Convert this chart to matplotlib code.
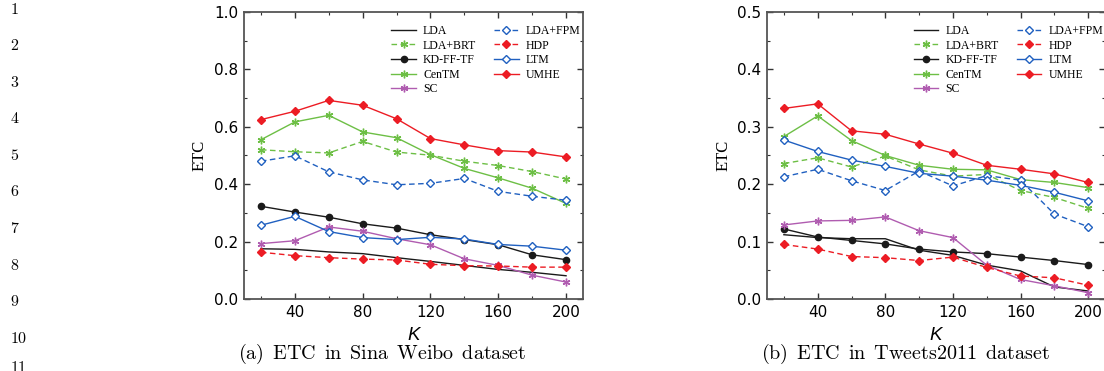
import numpy as np
import matplotlib
matplotlib.use("Agg")
import matplotlib.pyplot as plt
from matplotlib.ticker import MultipleLocator


# number of topics K
k_values = [20, 40, 60, 80, 100, 120, 140, 160, 180, 200]

method_names = ["LDA", "LDA+BRT", "KD-FF-TF", "CenTM", "SC",
                "LDA+FPM", "HDP", "LTM", "UMHE"]

# (a) Sina Weibo
weibo_lda = [0.175, 0.173, 0.164, 0.158, 0.144, 0.131, 0.117, 0.103, 0.093, 0.081]
weibo_lda_brt = [0.520, 0.513, 0.509, 0.549, 0.512, 0.501, 0.480, 0.465, 0.444, 0.418]
weibo_kd = [0.323, 0.303, 0.285, 0.262, 0.247, 0.224, 0.207, 0.189, 0.154, 0.137]
weibo_centm = [0.555, 0.617, 0.640, 0.582, 0.562, 0.503, 0.455, 0.422, 0.386, 0.333]
weibo_sc = [0.193, 0.203, 0.251, 0.236, 0.210, 0.189, 0.140, 0.117, 0.083, 0.059]
weibo_lda_fpm = [0.480, 0.499, 0.443, 0.415, 0.398, 0.403, 0.420, 0.375, 0.358, 0.344]
weibo_hdp = [0.163, 0.151, 0.144, 0.139, 0.136, 0.121, 0.116, 0.115, 0.111, 0.111]
weibo_ltm = [0.257, 0.288, 0.235, 0.214, 0.207, 0.215, 0.209, 0.190, 0.184, 0.170]
weibo_umhe = [0.625, 0.654, 0.692, 0.675, 0.628, 0.559, 0.537, 0.517, 0.512, 0.495]

# (b) Tweets2011
tweets_lda = [0.112, 0.107, 0.105, 0.105, 0.085, 0.076, 0.059, 0.049, 0.021, 0.014]
tweets_lda_brt = [0.236, 0.246, 0.230, 0.249, 0.225, 0.214, 0.217, 0.189, 0.177, 0.158]
tweets_kd = [0.122, 0.108, 0.102, 0.096, 0.087, 0.082, 0.079, 0.073, 0.067, 0.060]
tweets_centm = [0.283, 0.319, 0.276, 0.250, 0.233, 0.226, 0.225, 0.208, 0.203, 0.194]
tweets_sc = [0.129, 0.136, 0.137, 0.143, 0.119, 0.107, 0.059, 0.034, 0.023, 0.011]
tweets_lda_fpm = [0.213, 0.226, 0.206, 0.189, 0.223, 0.197, 0.215, 0.207, 0.148, 0.126]
tweets_hdp = [0.095, 0.087, 0.074, 0.072, 0.067, 0.073, 0.055, 0.040, 0.037, 0.024]
tweets_ltm = [0.277, 0.257, 0.242, 0.231, 0.219, 0.214, 0.207, 0.198, 0.186, 0.171]
tweets_umhe = [0.332, 0.340, 0.293, 0.287, 0.270, 0.254, 0.233, 0.226, 0.218, 0.203]

captions = ["(a) ETC in Sina Weibo dataset", "(b) ETC in Tweets2011 dataset"]
y_limits = [1.0, 0.5]
line_numbers = ["1", "2", "3", "4", "5", "6", "7", "8", "9", "10", "11"]

RED = "#ec1c24"
GREEN = "#6dbf45"
BLUE = "#2060c0"
PURPLE = "#b05cb0"
BLACK = "#1a1a1a"

# colour, linestyle, marker, filled
STYLES = [
    (BLACK, "-", None, True),
    (GREEN, "--", (6, 2, 0), True),
    (BLACK, "-", "o", True),
    (GREEN, "-", (6, 2, 0), True),
    (PURPLE, "-", (6, 2, 0), True),
    (BLUE, "--", "D", False),
    (RED, "--", "D", True),
    (BLUE, "-", "D", False),
    (RED, "-", "D", True),
]


def to_cm(s):
    return r"$\mathrm{" + s.replace(" ", r"\ \,") + "}$"


def draw_panel(ax, series, ymax, caption):
    for name, ys, (col, ls, mk, filled) in zip(method_names, series, STYLES):
        size = 4.5 if mk == "o" else 4
        if mk == (6, 2, 0):
            size = 5.5
        ax.plot(k_values, ys, color=col, linestyle=ls, linewidth=1.0,
                marker=mk, markersize=size, markeredgewidth=1.0,
                markerfacecolor=col if filled else "white",
                markeredgecolor=col, label=name, dashes=(4, 2.5) if ls == "--" else (None, None))
    ax.set_xlim(10, 210)
    ax.set_ylim(0, ymax)
    ax.xaxis.set_major_locator(MultipleLocator(40))
    ax.xaxis.set_minor_locator(MultipleLocator(20))
    ax.yaxis.set_major_locator(MultipleLocator(ymax / 5))
    ax.yaxis.set_minor_locator(MultipleLocator(ymax / 10))
    ax.set_yticklabels([f"{v:.1f}" for v in ax.get_yticks()])
    ax.tick_params(which="both", direction="in", top=True, right=True,
                   labelsize=11, colors="#333333", labelcolor="black")
    ax.tick_params(which="major", length=4, width=1.0, pad=4)
    ax.tick_params(which="minor", length=2.5, width=0.8)
    for sp in ax.spines.values():
        sp.set_color("#555555")
        sp.set_linewidth(1.3)
    ax.text(-0.13, 0.5, "ETC", rotation=90, transform=ax.transAxes,
            ha="center", va="center", family="Liberation Serif", fontsize=12)
    ax.text(0.5, -0.128, "K", style="italic", transform=ax.transAxes,
            ha="center", va="center", family="Liberation Sans", fontsize=13.5)
    ax.text(-0.017, -0.192, to_cm(caption), transform=ax.transAxes,
            ha="left", va="center", fontsize=14.5)
    ax.legend(ncol=2, frameon=False, loc="upper left",
              bbox_to_anchor=(0.434, 0.955), borderaxespad=0, borderpad=0,
              prop={"family": "Liberation Serif", "size": 8.5},
              handlelength=2.1, handletextpad=0.6, labelspacing=0.22,
              columnspacing=1.5)


def main():
    plt.rcParams["mathtext.fontset"] = "cm"
    fig = plt.figure(figsize=(11.04, 3.71), dpi=100)
    W, H = 1104.0, 371.0
    ax1 = fig.add_axes([244 / W, 72 / H, 339 / W, 287 / H])
    ax2 = fig.add_axes([767 / W, 72 / H, 338 / W, 287 / H])

    weibo = [weibo_lda, weibo_lda_brt, weibo_kd, weibo_centm, weibo_sc,
             weibo_lda_fpm, weibo_hdp, weibo_ltm, weibo_umhe]
    tweets = [tweets_lda, tweets_lda_brt, tweets_kd, tweets_centm, tweets_sc,
              tweets_lda_fpm, tweets_hdp, tweets_ltm, tweets_umhe]

    draw_panel(ax1, weibo, y_limits[0], captions[0])
    draw_panel(ax2, tweets, y_limits[1], captions[1])

    # line numbers down the left margin
    for i, num in enumerate(line_numbers):
        yc = 9 + i * 36.6
        if i == len(line_numbers) - 1:
            yc = 368
        fig.text(10 / W, 1 - yc / H, to_cm(num),
                 ha="left", va="center", fontsize=11.5)

    fig.savefig("out.png", dpi=100)


if __name__ == "__main__":
    main()
